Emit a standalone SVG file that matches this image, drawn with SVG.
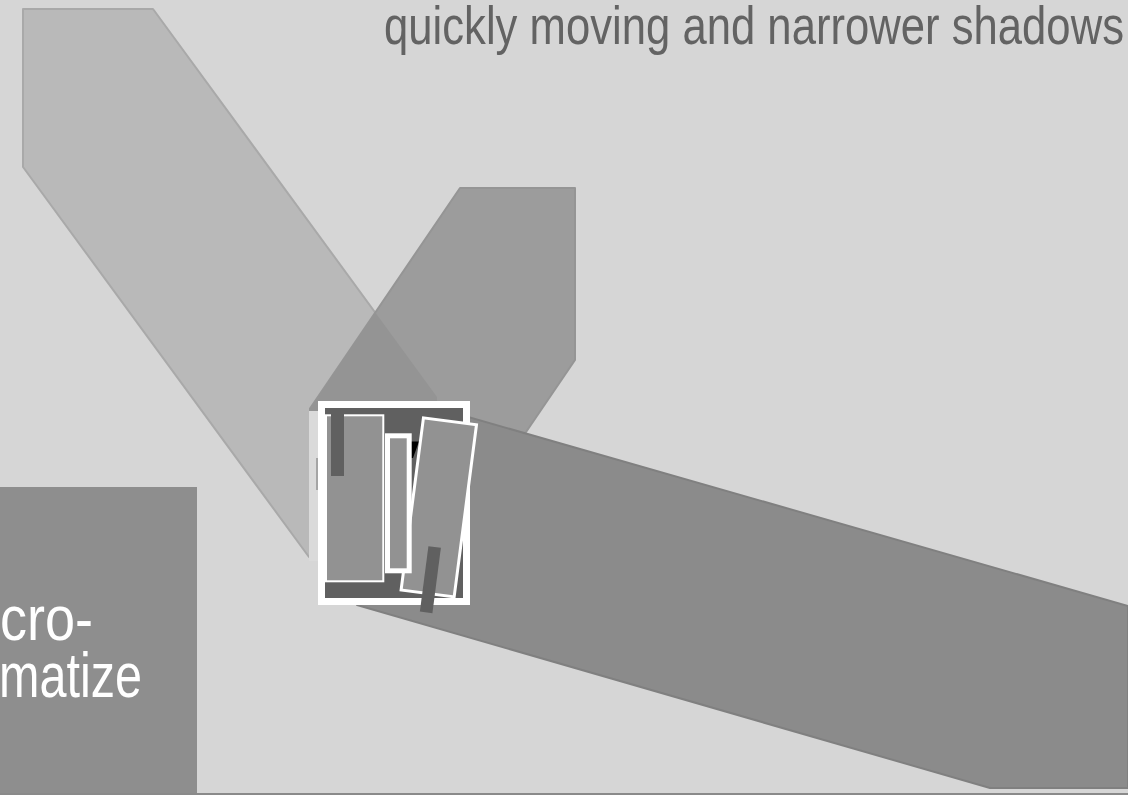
<svg xmlns="http://www.w3.org/2000/svg" width="1128" height="795" viewBox="0 0 1128 795">
  <style>
    .band1 { fill: #b9b9b9; stroke: #a9a9a9; stroke-width: 2; stroke-linejoin: round; }
    .band2 { fill: #9c9c9c; stroke: #959595; stroke-width: 2; stroke-linejoin: round; }
    .overlap { fill: #949494; }
    .band3 { fill: #8b8b8b; stroke: #808080; stroke-width: 2; stroke-linejoin: round; }
    .dark { fill: #606060; }
    .card { fill: #929292; stroke: #ffffff; }
    .title { font-family: "Liberation Sans Narrow", "Liberation Sans", Arial, sans-serif; font-size: 53px; fill: #636363; }
    .boxtext { font-family: "Liberation Sans Narrow", "Liberation Sans", Arial, sans-serif; font-size: 63px; fill: #ffffff; }
  </style>
  <rect id="background" x="0" y="0" width="1128" height="795" fill="#d6d6d6"/>

  <g id="band-light">
    <polygon class="band1" points="23,9 153,9 437,397 437,557 309,557 23,167"/>
  </g>
  <g id="band-mid">
    <polygon class="band2" points="460,188 575,188 575,360 439,560 310,560 310,408.5"/>
    <polygon class="overlap" points="375.3,312.6 437,397 437,557 311,557 311,408.5"/>
  </g>
  <g id="band-dark">
    <polygon class="band3" points="430,406 1128,606 1128,788 990,788 357,605"/>
  </g>

  <g id="frame">
    <rect x="309" y="411" width="9" height="150" fill="#dadada"/>
    <rect x="316" y="458" width="3" height="32" fill="#8f8f8f" opacity="0.7"/>
    <rect x="321.5" y="404.5" width="145" height="197" class="dark" stroke="#ffffff" stroke-width="7"/>
    <rect class="card" x="326" y="415.3" width="57.3" height="166" stroke-width="2"/>
    <rect class="dark" x="331" y="408" width="13" height="68"/>
    <polygon points="411,441.5 419,441.5 413,458 411,458" fill="#000000"/>
    <g transform="translate(438.8,507.4) rotate(7.4)">
      <rect class="card" x="-26.75" y="-86.75" width="53.5" height="173.5" stroke-width="3"/>
    </g>
    <rect class="card" x="387.5" y="435.8" width="21.7" height="135" stroke-width="5"/>
    <g transform="translate(430.4,579.7) rotate(7.4)">
      <rect class="dark" x="-6.3" y="-33" width="12.6" height="66"/>
    </g>
  </g>

  <g id="side-box">
    <rect x="0" y="487" width="197" height="308" fill="#8e8e8e"/>
    <text class="boxtext" x="0" y="640" textLength="93" lengthAdjust="spacingAndGlyphs">cro-</text>
    <text class="boxtext" x="-1" y="697" textLength="143" lengthAdjust="spacingAndGlyphs">matize</text>
  </g>

  <g id="caption">
    <text class="title" x="384" y="44" textLength="740" lengthAdjust="spacingAndGlyphs">quickly moving and narrower shadows</text>
  </g>

  <rect id="bottom-line" x="0" y="793" width="1128" height="2" fill="#8a8a8a"/>
</svg>
